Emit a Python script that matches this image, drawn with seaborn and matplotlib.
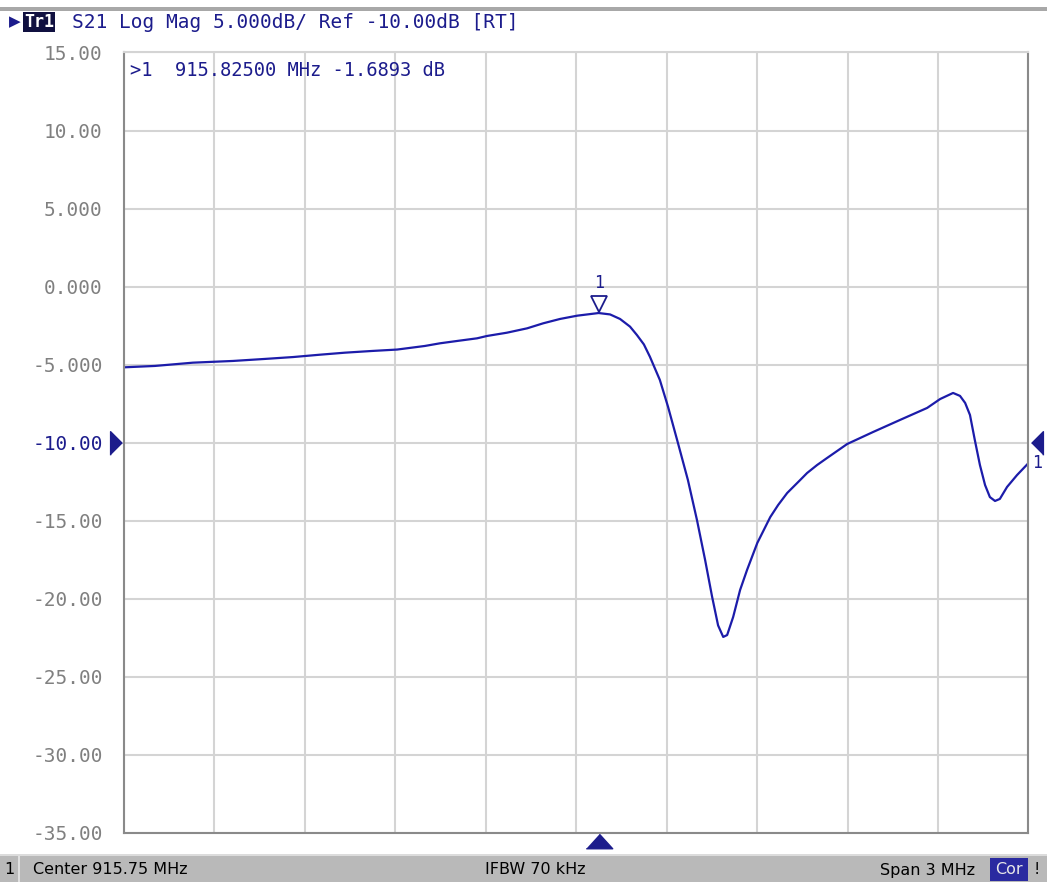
import numpy as np
import pandas as pd
import matplotlib
matplotlib.use("Agg")
import matplotlib.pyplot as plt
import matplotlib.transforms as mtransforms
from matplotlib.patches import Rectangle
import seaborn as sns

# 측정 데이터 (S21, 화면에서 읽은 값)
freq_mhz = [914.250, 914.354, 914.480, 914.613, 914.719, 914.812, 914.901, 914.984,
            915.074, 915.157, 915.249, 915.299, 915.356, 915.422, 915.455, 915.521,
            915.588, 915.641, 915.697, 915.754, 915.825, 915.863, 915.896, 915.929,
            915.952, 915.975, 915.995, 916.028, 916.055, 916.088, 916.121, 916.151,
            916.178, 916.201, 916.221, 916.238, 916.251, 916.271, 916.294, 916.317,
            916.351, 916.394, 916.420, 916.450, 916.493, 916.516, 916.549, 916.582,
            916.649, 916.735, 916.824, 916.914, 916.957, 917.000, 917.023, 917.040,
            917.056, 917.072, 917.089, 917.106, 917.122, 917.139, 917.155, 917.179,
            917.212, 917.250]
s21_db = [-5.17, -5.08, -4.87, -4.76, -4.63, -4.51, -4.36, -4.23,
          -4.12, -4.03, -3.80, -3.63, -3.48, -3.31, -3.16, -2.95,
          -2.67, -2.35, -2.07, -1.86, -1.69, -1.78, -2.07, -2.56,
          -3.10, -3.70, -4.49, -5.98, -7.69, -10.02, -12.39, -14.95,
          -17.51, -19.85, -21.70, -22.44, -22.32, -21.16, -19.43, -18.15,
          -16.42, -14.76, -13.99, -13.22, -12.39, -11.94, -11.43, -10.98,
          -10.08, -9.31, -8.54, -7.77, -7.20, -6.81, -7.00, -7.45,
          -8.22, -9.82, -11.43, -12.71, -13.48, -13.73, -13.60, -12.83,
          -12.07, -11.30]

# 마커 / 축 설정
marker_freq = 915.825
marker_db = -1.6893
ref_db = -10.0
x_min, x_max = 914.25, 917.25
y_ticks = [15, 10, 5, 0, -5, -10, -15, -20, -25, -30, -35]
y_tick_labels = ["15.00", "10.00", "5.000", "0.000", "-5.000", "-10.00",
                 "-15.00", "-20.00", "-25.00", "-30.00", "-35.00"]

df = pd.DataFrame({"freq": freq_mhz, "s21": s21_db})

sns.set_style("white")
plt.rcParams['font.family'] = ['DejaVu Sans']

navy = "#1c1c8c"
trace_col = "#1c1caa"
mono = "DejaVu Sans Mono"

fig = plt.figure(figsize=(10.47, 8.82), dpi=100)
ax = fig.add_axes([0.11796, 0.05556, 0.86437, 0.88492])

sns.lineplot(data=df, x="freq", y="s21", ax=ax, color=trace_col, linewidth=1.6)

ax.set_xlim(x_min, x_max)
ax.set_ylim(-35, 15)
ax.set_xticks(np.linspace(x_min, x_max, 11))
ax.set_xticklabels([])
ax.set_yticks(y_ticks)
ax.set_yticklabels(y_tick_labels, fontfamily=mono, fontsize=14, color="#808080")
ax.tick_params(length=0, pad=15)
ax.set_xlabel("")
ax.set_ylabel("")
ax.grid(True, color="#d4d4d4", linewidth=1.5)
for s in ax.spines.values():
    s.set_color("#8a8a8a")
    s.set_linewidth(1.5)
ax.spines["top"].set_color("#d4d4d4")

# 기준 레벨 라벨은 파란색
ax.get_yticklabels()[y_ticks.index(-10)].set_color(navy)

# 기준 레벨 삼각형 (좌/우)
tr_ref = mtransforms.blended_transform_factory(ax.transAxes, ax.transData)
ax.plot([-0.0083], [ref_db], transform=tr_ref, clip_on=False, linestyle="none",
        marker=[(-0.5, -1), (-0.5, 1), (0.5, 0)], markersize=17, color=navy)
ax.plot([1.0094], [ref_db], transform=tr_ref, clip_on=False, linestyle="none",
        marker=[(0.5, -1), (0.5, 1), (-0.5, 0)], markersize=17, color=navy)
ax.text(1.0094, -11.3, "1", transform=tr_ref, fontfamily=mono, fontsize=12,
        color=navy, ha="center", va="center", clip_on=False)

# 주파수 위치 삼각형 (아래)
tr_bot = mtransforms.blended_transform_factory(ax.transData, ax.transAxes)
ax.plot([marker_freq], [-0.0102], transform=tr_bot, clip_on=False, linestyle="none",
        marker=[(-1, -0.55), (1, -0.55), (0, 0.55)], markersize=19, color=navy)

# 트레이스 마커
tr_mk = mtransforms.offset_copy(ax.transData, fig=fig, x=0, y=9, units="dots")
ax.plot([marker_freq], [marker_db], transform=tr_mk, linestyle="none",
        marker="v", markersize=11, markerfacecolor="white",
        markeredgecolor=navy, markeredgewidth=1.3, clip_on=False)
tr_mk1 = mtransforms.offset_copy(ax.transData, fig=fig, x=0, y=30, units="dots")
ax.text(marker_freq, marker_db, "1", transform=tr_mk1, fontfamily=mono,
        fontsize=12, color=navy, ha="center", va="center")

# 마커 값 표시
ax.text(130 / 1047, 1 - 70 / 882, ">1  915.82500 MHz -1.6893 dB",
        transform=fig.transFigure, fontfamily=mono, fontsize=13.5,
        color=navy, ha="left", va="center")

# 상단 헤더
fig.patches.append(Rectangle((0, 1 - 11 / 882), 1, 4 / 882, transform=fig.transFigure,
                             facecolor="#a8a8a8", edgecolor="none"))
fig.text(9 / 1047, 1 - 22 / 882, "▶", fontsize=11, color=navy, ha="left", va="center")
fig.text(39 / 1047, 1 - 22 / 882, "Tr1", fontfamily=mono, fontsize=12, color="white",
         fontweight="bold", ha="center", va="center",
         bbox=dict(boxstyle="square,pad=0.08", facecolor="#101040", edgecolor="none"))
fig.text(72 / 1047, 1 - 22 / 882, "S21 Log Mag 5.000dB/ Ref -10.00dB [RT]",
         fontfamily=mono, fontsize=14, color=navy, ha="left", va="center")

# 하단 상태 표시줄
fig.patches.append(Rectangle((0, 0), 1, 26 / 882, transform=fig.transFigure,
                             facecolor="#b9b9b9", edgecolor="none"))
fig.patches.append(Rectangle((0, 26 / 882), 1, 2 / 882, transform=fig.transFigure,
                             facecolor="#dcdcdc", edgecolor="none"))
fig.patches.append(Rectangle((18 / 1047, 0), 1.5 / 1047, 26 / 882, transform=fig.transFigure,
                             facecolor="#e0e0e0", edgecolor="none"))
ybar = 12 / 882
fig.text(4 / 1047, ybar, "1", fontsize=11.5, color="black", ha="left", va="center")
fig.text(33 / 1047, ybar, "Center 915.75 MHz", fontsize=11.5, color="black",
         ha="left", va="center")
fig.text(535 / 1047, ybar, "IFBW 70 kHz", fontsize=11.5, color="black",
         ha="center", va="center")
fig.text(975 / 1047, ybar, "Span 3 MHz", fontsize=11.5, color="black",
         ha="right", va="center")
fig.patches.append(Rectangle((990 / 1047, 1 / 882), 38 / 1047, 23 / 882,
                             transform=fig.transFigure, facecolor="#2a2aa0",
                             edgecolor="none"))
fig.text(1009 / 1047, ybar, "Cor", fontsize=11.5, color="#e8e8e8",
         ha="center", va="center")
fig.text(1037 / 1047, ybar, "!", fontsize=11.5, color="black",
         ha="center", va="center")

plt.savefig("out.png", dpi=100)
